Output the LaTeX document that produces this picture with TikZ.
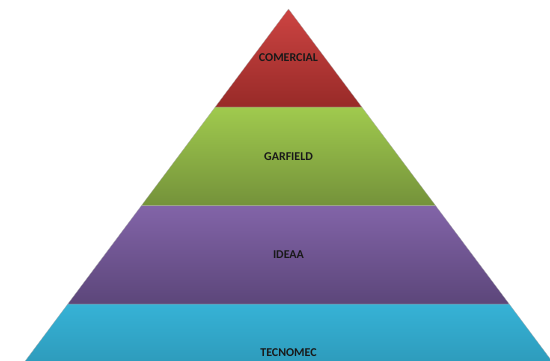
\documentclass[tikz,border=0pt]{standalone}
\usepackage{fontspec}
\setmainfont{Carlito}
\definecolor{redT}{RGB}{204,68,66}
\definecolor{redB}{RGB}{152,42,40}
\definecolor{grnT}{RGB}{160,202,78}
\definecolor{grnB}{RGB}{116,146,58}
\definecolor{purT}{RGB}{130,100,168}
\definecolor{purB}{RGB}{92,70,122}
\definecolor{cyaT}{RGB}{54,178,214}
\definecolor{cyaB}{RGB}{40,140,170}
\tikzset{
  lbl/.style={font=\bfseries\fontsize{12}{14}\selectfont, text=black!90, inner sep=0pt},
  band/.style={draw=black!30, line width=0.25pt}
}
\begin{document}
\begin{tikzpicture}[x=1bp,y=-1bp]
\useasboundingbox (0,0) rectangle (550,360);
\clip (0,0) rectangle (550,360);
\fill[white] (0,0) rectangle (550,360);
\path[band, top color=cyaT, bottom color=cyaB] (67.8,304) -- (509.2,304) -- (582.8,402.5) -- (-5.8,402.5) -- cycle;
\path[band, top color=purT, bottom color=purB] (141.5,205.5) -- (435.5,205.5) -- (509.2,304) -- (67.8,304) -- cycle;
\path[band, top color=grnT, bottom color=grnB] (215.2,107) -- (361.8,107) -- (435.5,205.5) -- (141.5,205.5) -- cycle;
\path[band, top color=redT, bottom color=redB] (288.5,9) -- (361.8,107) -- (215.2,107) -- cycle;
\node[lbl] (com) at (288.5,58) {COMERCIAL};
\node[lbl] (gar) at (288.5,156.5) {GARFIELD};
\node[lbl] (ide) at (288.5,255) {IDEAA};
\node[lbl] (tec) at (288.5,352.5) {TECNOMEC};
\end{tikzpicture}
\end{document}
